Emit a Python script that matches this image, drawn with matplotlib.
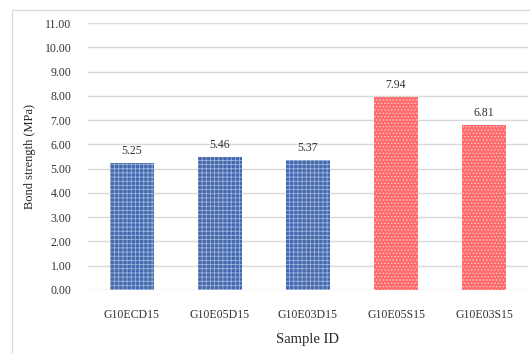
import numpy as np
import matplotlib.pyplot as plt
from matplotlib.patches import Rectangle

plt.rcParams['font.family'] = ['Liberation Serif', 'DejaVu Serif']
plt.rcParams['hatch.linewidth'] = 0.6

samples = ["G10ECD15", "G10E05D15", "G10E03D15", "G10E05S15", "G10E03S15"]
strength = [5.25, 5.46, 5.37, 7.94, 6.81]
yticks = np.arange(0, 11.01, 1.0)

fig = plt.figure(figsize=(5.3, 3.54), dpi=100)
fig.patches.append(Rectangle((12 / 530, 0), 1, 1 - 10 / 354, transform=fig.transFigure,
                             fill=False, edgecolor='#d9d9d9', linewidth=0.8))
ax = fig.add_axes([88 / 530, 1 - 290 / 354, 440 / 530, 267 / 354])

x = np.arange(len(samples))
# first three: blue checker; last two: red dotted
for i, v in enumerate(strength):
    if i < 3:
        ax.bar(x[i], v, width=0.5, color='#4569ad', edgecolor='#9db3dc', hatch='++++',
               linewidth=0, zorder=3)
    else:
        ax.bar(x[i], v, width=0.5, color='#ff6b6b', edgecolor='#ffc8c8', hatch='.....',
               linewidth=0, zorder=3)
    ax.text(x[i], v + 0.25, f"{v:.2f}", ha='center', va='bottom', fontsize=8.5, color='#333333')

ax.set_xlim(-0.5, len(samples) - 0.5)
ax.set_ylim(0, 11)
ax.set_yticks(yticks)
ax.set_yticklabels([f"{t:.2f}" for t in yticks], fontsize=8.5, color='#333333')
ax.set_xticks(x)
ax.set_xticklabels(samples, fontsize=8.5, color='#333333')
ax.tick_params(length=0)
ax.tick_params(axis='y', pad=12)
ax.tick_params(axis='x', pad=14)
ax.grid(axis='y', color='#d9d9d9', linewidth=1, zorder=0)
for s in ax.spines.values():
    s.set_visible(False)

ax.set_ylabel("Bond strength (MPa)", fontsize=9, color='#262626', labelpad=6)
ax.set_xlabel("Sample ID", fontsize=10.5, color='#262626', labelpad=8)

fig.savefig("out.png", dpi=100)
